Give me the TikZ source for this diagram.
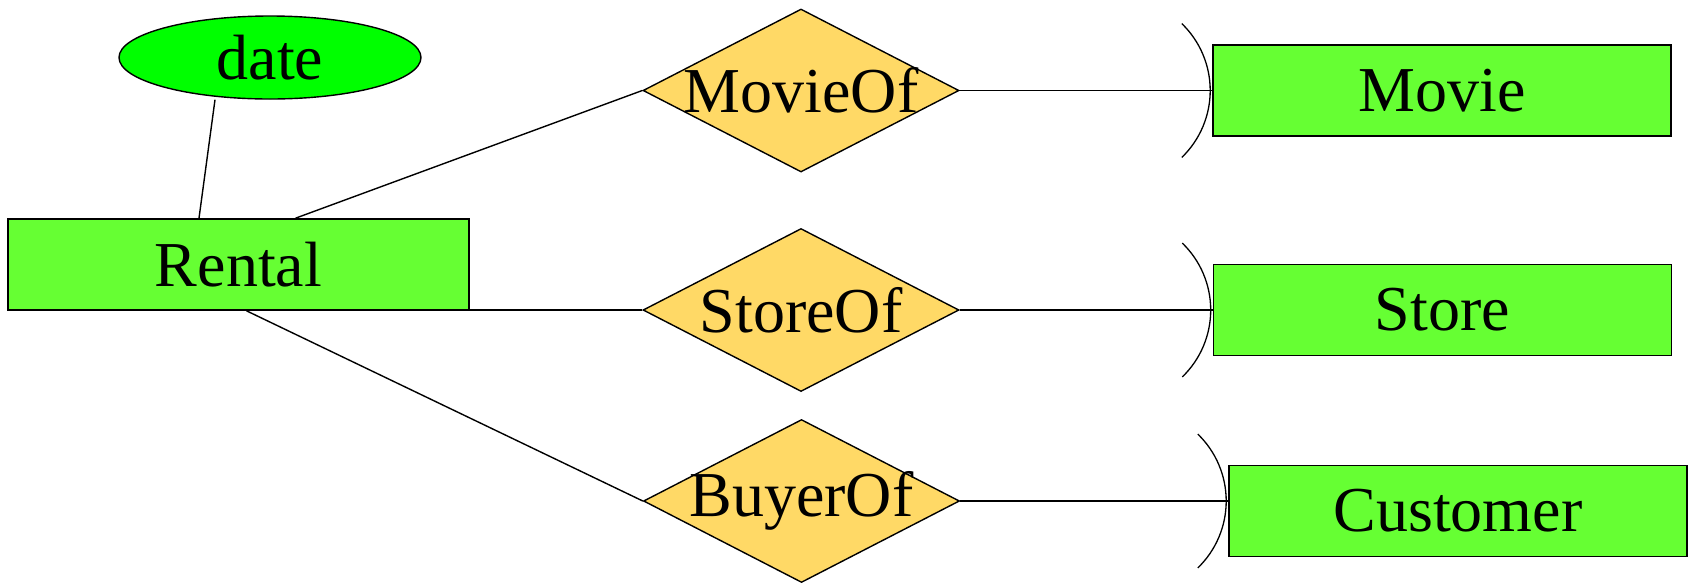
\documentclass[tikz,border=0pt]{standalone}
\usepackage{fontspec}
\setmainfont{Liberation Serif}
\usetikzlibrary{shapes.geometric,calc}
\definecolor{entgreen}{HTML}{66FF33}
\definecolor{attgreen}{HTML}{00FF00}
\definecolor{relgold}{HTML}{FFD966}
\begin{document}
\begin{tikzpicture}[x=1pt,y=-1pt,
  every node/.style={font=\fontsize{64}{70}\selectfont},
  entity/.style={draw=black, line width=1.6pt, fill=entgreen, rectangle, inner sep=0pt, minimum width=458pt, minimum height=91pt},
  attrib/.style={draw=black, line width=1.4pt, fill=attgreen, ellipse, inner sep=0pt, minimum width=302pt, minimum height=83pt},
  relship/.style={draw=black, line width=1.4pt, fill=relgold, diamond, inner sep=0pt, minimum width=316pt, minimum height=163pt},
  conn/.style={draw=black, line width=1.4pt},
  arcline/.style={draw=black, line width=1.3pt}]
\useasboundingbox (0,0) rectangle (1692,582);
\node[entity, minimum width=461pt] (Rental) at (238.5,264.5) {\raisebox{-2pt}{Rental}};
\node[attrib] (date) at (270,57.5) {\raisebox{-2pt}{date}};
\node[relship] (MovieOf) at (801,90.5) {\makebox[0pt]{\raisebox{-2pt}{MovieOf}}};
\node[relship] (StoreOf) at (801,310) {\makebox[0pt]{\raisebox{-2pt}{StoreOf}}};
\node[relship] (BuyerOf) at (801.5,501) {\makebox[0pt]{\raisebox{-2pt}{BuyerOf}}};
\node[entity] (Movie) at (1442,90.5) {\raisebox{-2pt}{Movie}};
\node[entity] (Store) at (1442.5,310) {\raisebox{-2pt}{Store}};
\node[entity] (Customer) at (1458,511) {\raisebox{-2pt}{Customer}};
\coordinate (custin) at (BuyerOf.east -| Customer.west);
% connectors
\draw[conn] ([xshift=-55pt]date.south) -- ([xshift=-39.5pt]Rental.north);
\draw[conn] ([xshift=57pt]Rental.north) -- (MovieOf.west);
\draw[conn] (StoreOf.west -| Rental.east) -- (StoreOf.west);
\draw[conn] ([xshift=8pt]Rental.south) -- (BuyerOf.west);
\draw[conn] (MovieOf.east) -- (Movie.west);
\draw[conn] (StoreOf.east) -- (Store.west);
\draw[conn] (BuyerOf.east) -- (custin);
% round arrowheads
\foreach \e in {Movie.west,Store.west,custin}{
  \draw[arcline] ([xshift=-2pt]\e) arc[start angle=0, end angle=46, radius=93pt];
  \draw[arcline] ([xshift=-2pt]\e) arc[start angle=0, end angle=-46, radius=93pt];
}
\end{tikzpicture}
\end{document}
